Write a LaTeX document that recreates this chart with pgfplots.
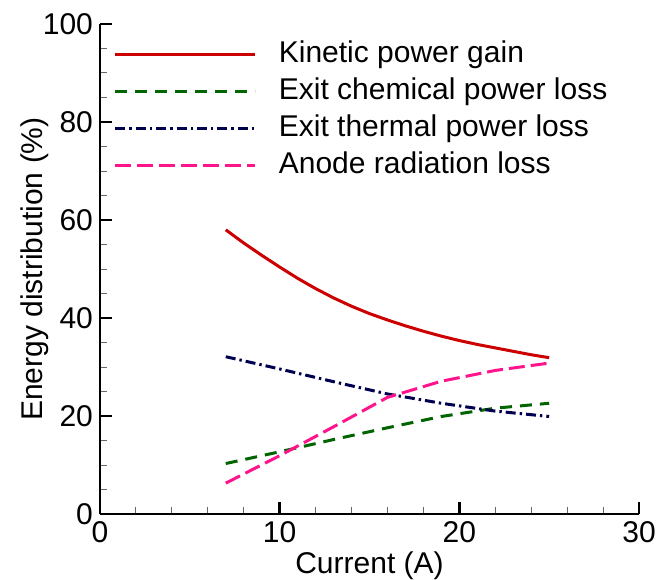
\documentclass[border=0pt]{standalone}
\usepackage{fontspec}
\setmainfont{Liberation Sans}
\usepackage{pgfplots}
\pgfplotsset{compat=1.18}

\definecolor{kinred}{RGB}{204,0,0}
\definecolor{chemgreen}{RGB}{0,100,0}
\definecolor{thermblue}{RGB}{0,0,80}
\definecolor{anodepink}{RGB}{255,20,140}

\pgfplotstableread{
I    P
7    58.0
8    55.3
9    52.8
10   50.4
11   48.1
12   46.0
13   44.1
14   42.4
15   40.9
16   39.6
17   38.4
18   37.3
19   36.3
20   35.4
21   34.6
22   33.9
23   33.2
24   32.5
25   31.9
}\kinetic

\pgfplotstableread{
I    P
7    10.3
10   12.7
13   15.2
16   17.6
19   19.9
22   21.6
25   22.6
}\chemical

\pgfplotstableread{
I    P
7    32.1
10   29.6
13   27.0
16   24.5
19   22.6
22   21.0
25   19.9
}\thermal

\pgfplotstableread{
I    P
7    6.3
10   11.9
13   17.8
16   23.8
19   27.1
22   29.3
25   30.8
}\anode

\begin{document}
\begin{tikzpicture}[font=\fontsize{15}{18}\selectfont]
\begin{axis}[
    scale only axis,
    width=269.5pt, height=245pt,
    xmin=0, xmax=30, ymin=0, ymax=100,
    axis lines=left,
    axis line style={-, line width=1.4pt},
    xtick={0,10,20,30}, ytick={0,20,40,60,80,100},
    minor x tick num=4, minor y tick num=3,
    tick align=inside,
    major tick length=6pt, minor tick length=3.5pt,
    every major tick/.append style={line width=1.2pt, black},
    every minor tick/.append style={line width=0.5pt, black!60},
    /pgf/number format/assume math mode=true,
    xlabel={Current (A)},
    ylabel={Energy distribution (\%)},
    every axis x label/.style={at={(axis description cs:0.5,-0.1224)}, anchor=base},
    every axis y label/.style={at={(axis description cs:-0.1058,0.5)}, anchor=base, rotate=90},
    legend cell align=left,
    legend image code/.code={\draw[#1] (0pt,0pt) -- (70pt,0pt);},
    legend style={draw=none, fill=none, inner sep=0pt,
        at={(axis cs:0.75,96.6)}, anchor=north west,
        row sep=5.4pt,
        nodes={inner sep=0pt, text height=10.6pt, text depth=2.6pt},
        /tikz/every odd column/.append style={column sep=11pt}},
]
\addplot[kinred, line width=1.5pt] table[x=I, y=P] {\kinetic};
\addlegendentry{Kinetic power gain}
\addplot[chemgreen, line width=1.5pt, dash pattern=on 6pt off 4pt] table[x=I, y=P] {\chemical};
\addlegendentry{Exit chemical power loss}
\addplot[thermblue, line width=1.5pt, dash pattern=on 5pt off 2pt on 1.2pt off 2pt] table[x=I, y=P] {\thermal};
\addlegendentry{Exit thermal power loss}
\addplot[anodepink, line width=1.5pt, dash pattern=on 8pt off 3pt] table[x=I, y=P] {\anode};
\addlegendentry{Anode radiation loss}
\coordinate (ll) at (rel axis cs:0,0);
\coordinate (ur) at (rel axis cs:1,1);
\end{axis}
\pgfresetboundingbox
\path ([xshift=-50pt, yshift=-32.5pt]ll) rectangle ([xshift=14.5pt, yshift=12pt]ur);
\end{tikzpicture}
\end{document}
